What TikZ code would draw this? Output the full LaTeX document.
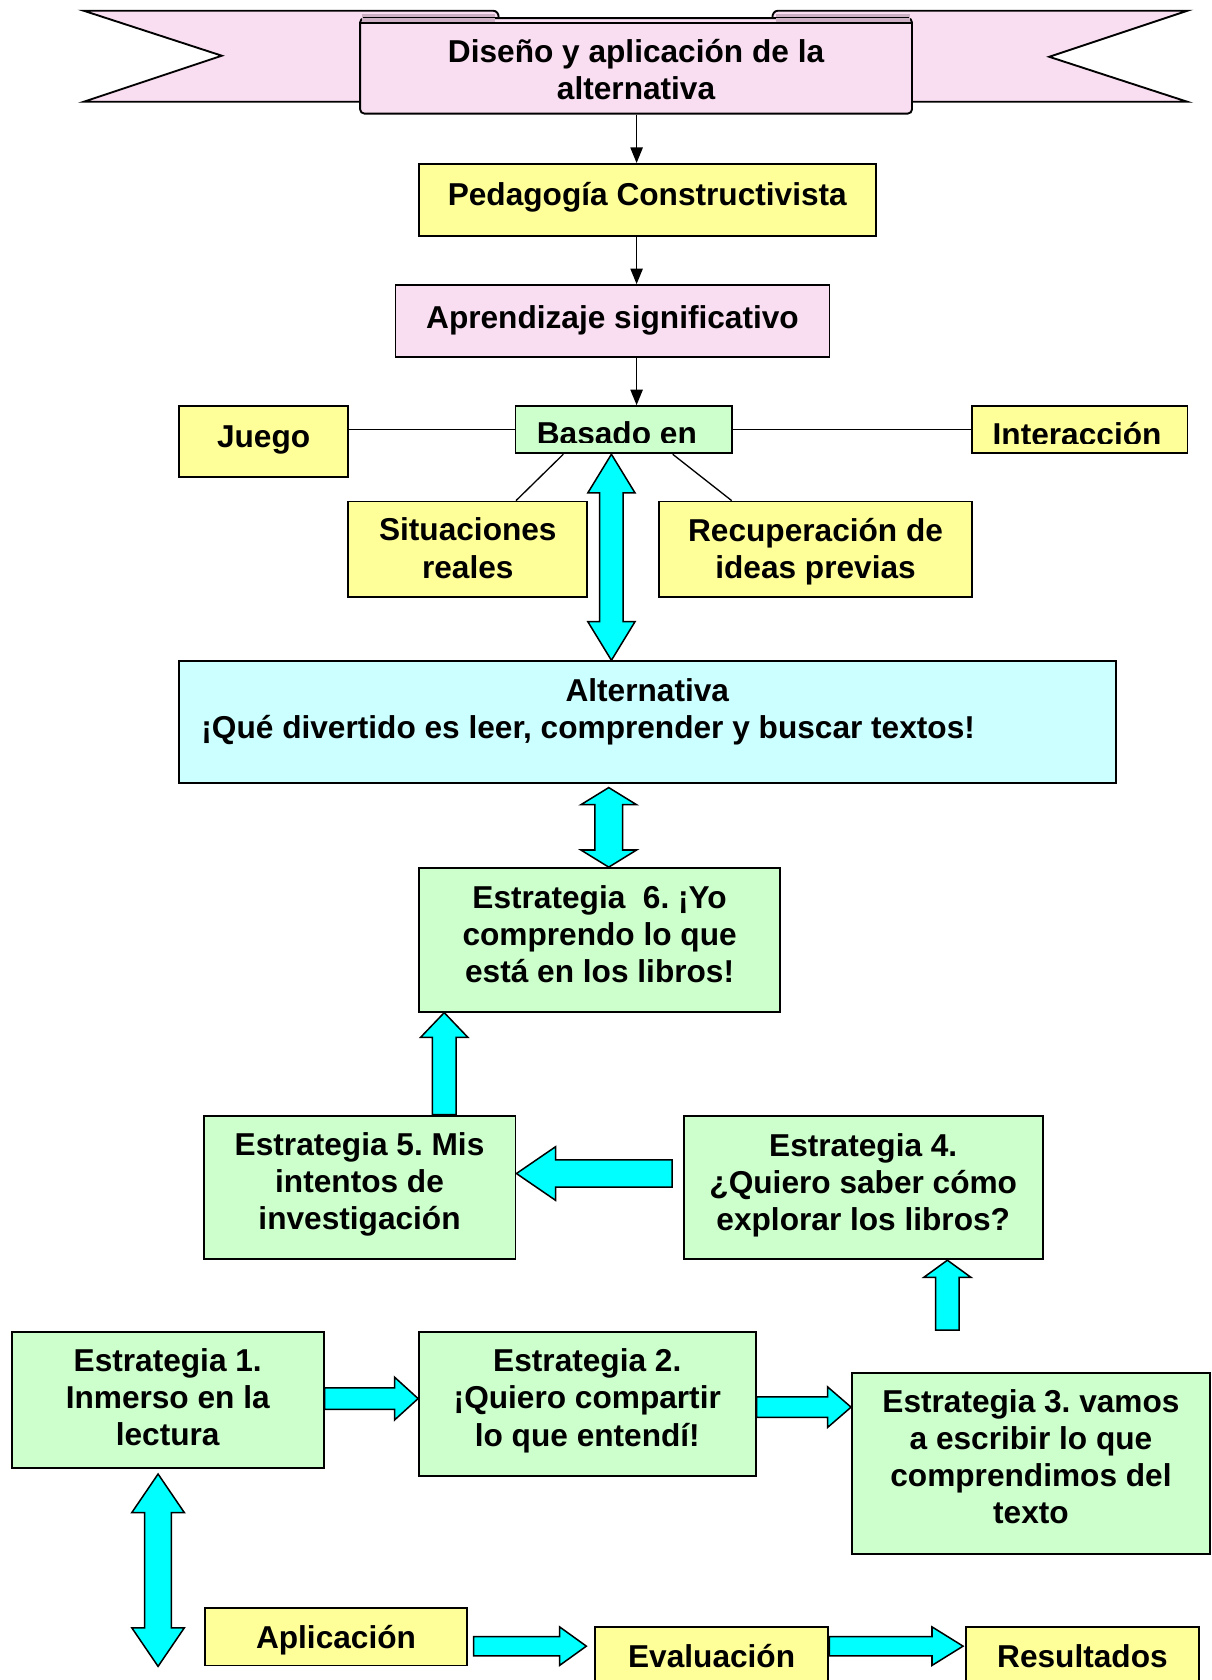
\documentclass[tikz,border=0pt]{standalone}
\usepackage{fontspec}
\setmainfont{Liberation Sans}
\usetikzlibrary{calc,arrows.meta}
\frenchspacing
\definecolor{yelb}{HTML}{FFFF99}
\definecolor{greenb}{HTML}{CCFFCC}
\definecolor{cyanb}{HTML}{CCFFFF}
\definecolor{pinkb}{HTML}{F9DEF1}
\definecolor{folddark}{HTML}{CDB0C3}
\definecolor{acyan}{HTML}{00FFFF}
\newcommand\fnt{\bfseries\fontsize{16.8}{19.7}\selectfont}
% single block arrow: tail, tip, half shaft, half head, head length
\newcommand\sarrow[5]{%
  \coordinate (sa-a) at (#1);
  \coordinate (sa-b) at (#2);
  \coordinate (sa-h) at ($(sa-b)!#5!(sa-a)$);
  \draw[blockarrow] ($(sa-a)!#3!90:(sa-b)$) -- ($(sa-h)!#3!90:(sa-b)$) -- ($(sa-h)!#4!90:(sa-b)$) -- (sa-b)
    -- ($(sa-h)!#4!-90:(sa-b)$) -- ($(sa-h)!#3!-90:(sa-b)$) -- ($(sa-a)!#3!-90:(sa-b)$) -- cycle;
}
% double block arrow: end, end, half shaft, half head, head length
\newcommand\dblarrow[5]{%
  \coordinate (da-a) at (#1);
  \coordinate (da-b) at (#2);
  \coordinate (da-h1) at ($(da-a)!#5!(da-b)$);
  \coordinate (da-h2) at ($(da-b)!#5!(da-a)$);
  \draw[blockarrow] (da-a) -- ($(da-h1)!#4!90:(da-b)$) -- ($(da-h1)!#3!90:(da-b)$) -- ($(da-h2)!#3!90:(da-b)$)
    -- ($(da-h2)!#4!90:(da-b)$) -- (da-b) -- ($(da-h2)!#4!-90:(da-b)$) -- ($(da-h2)!#3!-90:(da-b)$)
    -- ($(da-h1)!#3!-90:(da-b)$) -- ($(da-h1)!#4!-90:(da-b)$) -- cycle;
}
\begin{document}
\begin{tikzpicture}[x=0.02cm,y=-0.02cm,
  box/.style={draw=black,line width=1pt,inner sep=0pt},
  sz/.style 2 args={minimum width=#1*0.02cm,minimum height=#2*0.02cm},
  txt/.style={inner sep=0pt,font=\fnt,align=center},
  conn/.style={draw=black,line width=0.7pt},
  arr/.style={conn,-{Triangle[length=0.29cm,width=0.23cm]}},
  blockarrow/.style={fill=acyan,draw=black,line width=0.8pt,line join=miter},
  rib/.style={fill=pinkb,draw=black,line width=1pt,line join=miter}]
\useasboundingbox (0,0) rectangle (1130,1567.6);
\clip (0,0) rectangle (1130,1567.6);

% ---- ribbon ----
\draw[rib] (78,10) -- (460,10) .. controls (467,10) and (467,22) .. (460,22) -- (460,95) -- (78,95) -- (207,52) -- cycle;
\draw[rib] (1108,10) -- (726,10) .. controls (719,10) and (719,22) .. (726,22) -- (726,95) -- (1108,95) -- (979,53) -- cycle;
\node[rib,rounded corners=0.08cm,sz={515}{89},inner sep=0pt] (rib) at (593.5,61.5) {};
\fill[folddark] (337.6,13.5) rectangle (462,22);
\fill[folddark] (724.5,13.5) rectangle (849.4,22);
\draw[line width=0.8pt] ($(rib.north west)+(4,0)$) -- ($(rib.north east)+(-4,0)$);
\draw[line width=0.8pt] ($(rib.north west)+(2,5.4)$) -- ($(rib.north east)+(-2,5.4)$);
\node[txt] (ribT) at ($(rib)+(0,3)$) {Diseño y aplicación de la\\alternativa};

% ---- top chain ----
\node[box,fill=yelb,sz={426}{67}] (ped) at (604,186.5) {};
\node[txt] (pedT) at ($(ped)+(0,-2)$) {Pedagogía Constructivista};
\node[box,fill=pinkb,sz={405}{67}] (apr) at (571.5,299.5) {};
\node[txt] (aprT) at ($(apr)+(0,-1)$) {Aprendizaje significativo};
\node[box,fill=greenb,sz={202}{44}] (bas) at (582,401) {};
\node[box,fill=yelb,sz={158}{66}] (jue) at (246,412) {};
\node[txt] (jueT) at ($(jue)+(0,-1)$) {Juego};
\node[box,fill=yelb,sz={201}{44}] (int) at (1007.5,401) {};
\begin{scope}
  \clip (481,379) rectangle (683,412.5);
  \node[txt,anchor=base] (basT) at (575.6,415) {Basado en};
\end{scope}
\begin{scope}
  \clip (907,379) rectangle (1108,413.5);
  \node[txt,anchor=base] (intT) at (1005,416) {Interacción};
\end{scope}
\node[box,fill=yelb,sz={223}{89}] (sit) at (436.5,512.5) {};
\node[txt] (sitT) at ($(sit)+(0,-1)$) {Situaciones\\reales};
\node[box,fill=yelb,sz={292}{89}] (rec) at (761,512.5) {};
\node[txt] (recT) at ($(rec)+(0,2)$) {Recuperación de\\ideas previas};

\draw[arr] (rib.south -| 594,0) -- (ped.north -| 594,0);
\draw[arr] (ped.south -| 594,0) -- (apr.north -| 594,0);
\draw[arr] (apr.south -| 594,0) -- (bas.north -| 594,0);
\draw[conn] (jue.east |- bas.west) -- (bas.west);
\draw[conn] (bas.east) -- (int.west);
\draw[conn] (bas.south -| 525.6,0) -- (sit.north -| 481.5,0);
\draw[conn] (bas.south -| 627.7,0) -- (rec.north -| 682.7,0);

% ---- alternativa ----
\node[box,fill=cyanb,sz={874}{114}] (alt) at (604,674) {};
\node[txt,anchor=base] (altT1) at (604,655) {Alternativa};
\node[txt,anchor=base west] (altT2) at (187.6,689) {¡Qué divertido es leer, comprender y buscar textos!};

\dblarrow{bas.south -| 570.5,0}{alt.north -| 570.5,0}{0.22cm}{0.44cm}{0.72cm}

% ---- strategies ----
\node[box,fill=greenb,sz={337}{134}] (e6) at (559.5,877) {};
\node[txt] (e6T) at ($(e6)+(0,-5.5)$) {Estrategia~~6. ¡Yo\\comprendo lo que\\está en los libros!};
\node[box,fill=greenb,sz={291}{134}] (e5) at (335.5,1108) {};
\node[txt] (e5T) at ($(e5)+(0,-2.5)$) {Estrategia 5. Mis\\intentos de\\investigación};
\node[box,fill=greenb,sz={335}{134}] (e4) at (805.5,1108) {};
\node[txt] (e4T) at ($(e4)+(0,-2)$) {Estrategia 4.\\¿Quiero saber cómo\\explorar los libros?};
\node[box,fill=greenb,sz={291}{127}] (e1) at (156.5,1306.5) {};
\node[txt] (e1T) at ($(e1)+(0,-2.5)$) {Estrategia 1.\\Inmerso en la\\lectura};
\node[box,fill=greenb,sz={314}{134}] (e2) at (548,1310) {};
\node[txt] (e2T) at ($(e2)+(0,-3)$) {Estrategia 2.\\¡Quiero compartir\\lo que entendí!};
\node[box,fill=greenb,sz={334}{169}] (e3) at (962,1365.5) {};
\node[txt] (e3T) at ($(e3)+(0,-6)$) {Estrategia 3. vamos\\a escribir lo que\\comprendimos del\\texto};

\dblarrow{$(alt.south -| 568,0)+(0,3)$}{e6.north -| 568,0}{0.26cm}{0.52cm}{0.32cm}
\sarrow{e5.north -| 414.5,0}{e6.south -| 414.5,0}{0.22cm}{0.44cm}{0.46cm}
\sarrow{$(e4.west |- 0,1095)+(-10,0)$}{e5.east |- 0,1095}{0.254cm}{0.5cm}{0.73cm}
\sarrow{$(e3.north -| 884,0)+(0,-39)$}{e4.south -| 884,0}{0.22cm}{0.44cm}{0.32cm}
\sarrow{e1.east |- 0,1305}{e2.west |- 0,1305}{0.2cm}{0.4cm}{0.44cm}
\sarrow{e2.east |- 0,1313}{e3.west |- 0,1313}{0.19cm}{0.38cm}{0.44cm}

% ---- bottom row ----
\node[box,fill=yelb,sz={245}{54}] (apl) at (313.5,1527) {};
\node[txt] (aplT) at ($(apl)+(0,3)$) {Aplicación};
\node[box,fill=yelb,sz={218}{82}] (eva) at (664,1559) {};
\node[box,fill=yelb,sz={218}{82}] (res) at (1010,1559) {};
\node[txt,anchor=base] (evaT) at (664,1555.5) {Evaluación};
\node[txt,anchor=base] (resT) at (1010,1555.5) {Resultados};

\dblarrow{$(e1.south -| 147.5,0)+(0,4.5)$}{apl.south -| 147.5,0}{0.25cm}{0.49cm}{0.72cm}
\sarrow{$(apl.east |- 0,1536)+(5,0)$}{$(eva.west |- 0,1536)+(-7,0)$}{0.18cm}{0.36cm}{0.5cm}
\sarrow{eva.east |- 0,1536}{$(res.west |- 0,1536)+(-1.5,0)$}{0.18cm}{0.36cm}{0.58cm}
\end{tikzpicture}
\end{document}
